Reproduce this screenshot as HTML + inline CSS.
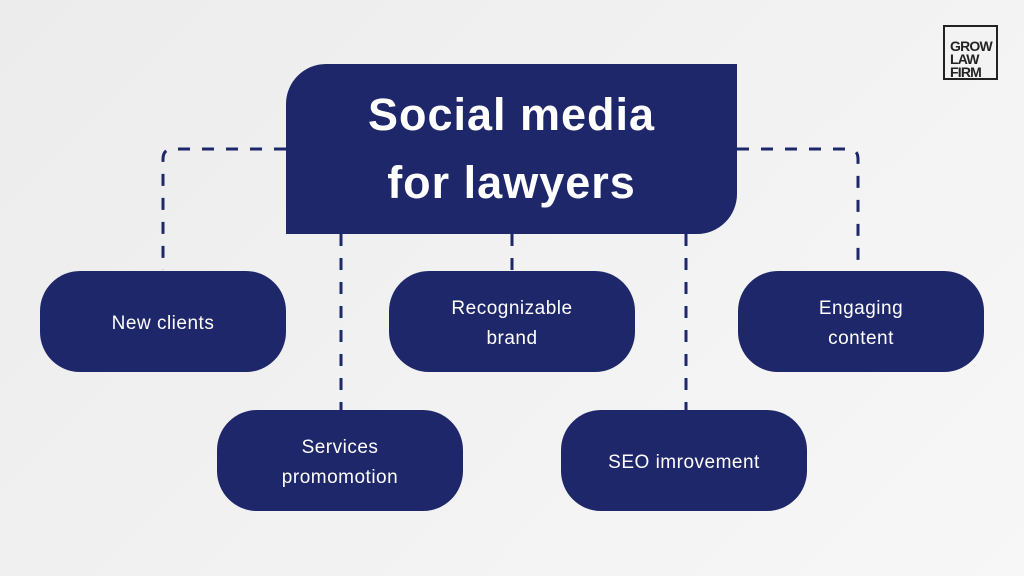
<!DOCTYPE html>
<html><head><style>
body{margin:0;width:1024px;height:576px;overflow:hidden;background:linear-gradient(135deg,#ececec,#f7f7f7);font-family:"Liberation Sans",sans-serif;position:relative}
.b{position:absolute;background:#1f276b;color:#fff;display:flex;align-items:center;justify-content:center;text-align:center;border-radius:40px;width:246px;height:101px;font-size:19px;line-height:30px;letter-spacing:0.5px;padding-top:5px;box-sizing:border-box}
#main{position:absolute;left:286px;top:64px;width:451px;height:170px;background:#1f276b;border-radius:40px 0 40px 0;color:#fff;font-weight:bold;font-size:45px;line-height:68px;text-align:center;display:flex;align-items:center;justify-content:center;letter-spacing:1px}
#logo{position:absolute;left:943px;top:25px;border:2px solid #222;font-size:14px;line-height:13px;color:#222;padding:13px 0 0 5px;width:46px;height:38px;letter-spacing:-0.8px;font-weight:bold}
</style></head><body>
<svg width="1024" height="576" style="position:absolute;left:0;top:0">
<g stroke="#1f276b" stroke-width="3" fill="none" stroke-dasharray="12 12">
<path d="M286 149 H173 Q163 149 163 159 V270"/>
<path d="M737 149 H848 Q858 149 858 159 V270"/>
<path d="M341 234 V410"/>
<path d="M512 234 V270"/>
<path d="M686 234 V410"/>
</g></svg>
<div id="main">Social media<br>for lawyers</div>
<div class="b" style="left:40px;top:271px">New clients</div>
<div class="b" style="left:389px;top:271px">Recognizable<br>brand</div>
<div class="b" style="left:738px;top:271px">Engaging<br>content</div>
<div class="b" style="left:217px;top:410px">Services<br>promomotion</div>
<div class="b" style="left:561px;top:410px">SEO imrovement</div>
<div id="logo">GROW<br>LAW<br>FIRM</div>
</body></html>
